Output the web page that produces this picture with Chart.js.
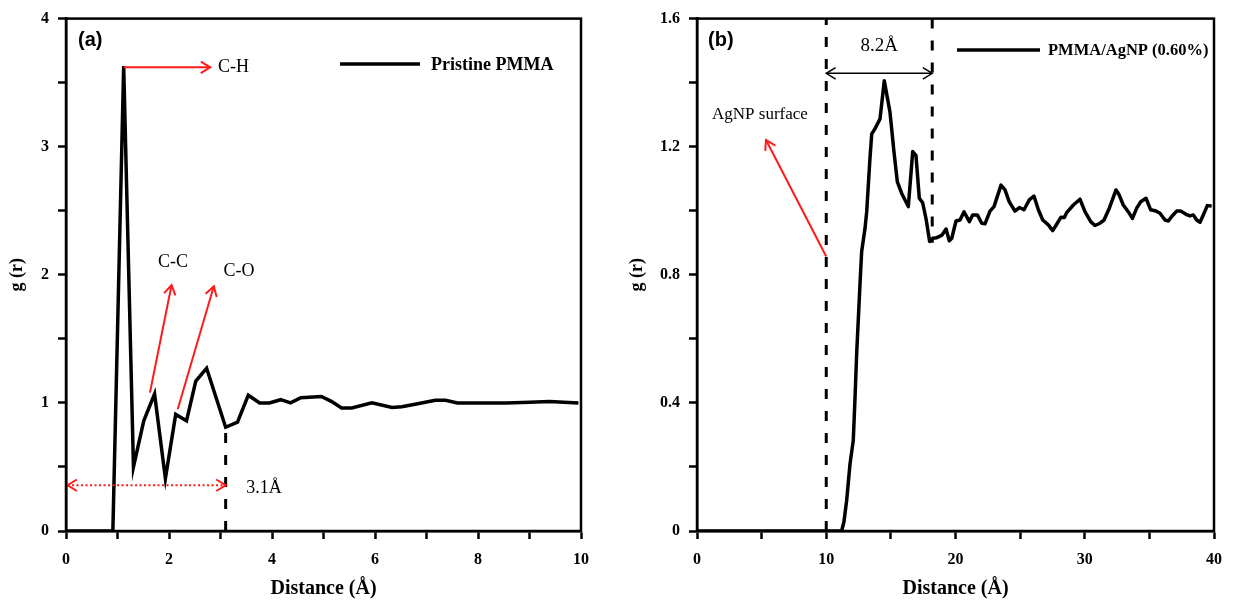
<!DOCTYPE html>
<html>
<head>
<meta charset="utf-8">
<script src="https://cdn.jsdelivr.net/npm/chart.js@4/dist/chart.umd.min.js"></script>
<style>
  html, body { margin: 0; padding: 0; background: #fff; }
  #wrap { position: relative; width: 1233px; height: 603px; overflow: hidden; }
  canvas { position: absolute; top: 0; }
</style>
</head>
<body>
<div id="wrap">
  <canvas id="chartA" width="616" height="603" style="left:0"></canvas>
  <canvas id="chartB" width="617" height="603" style="left:616px"></canvas>
</div>
<script>
// ---- Pristine PMMA radial distribution function ----
const distanceA = [0, 0.91, 1.12, 1.31, 1.51, 1.72, 1.93, 2.13, 2.34, 2.52,
                   2.73, 3.1, 3.33, 3.54, 3.76, 3.95, 4.17, 4.36, 4.56, 4.96,
                   5.16, 5.35, 5.55, 5.94, 6.33, 6.52, 6.78, 7.17, 7.37, 7.60,
                   7.83, 8.09, 8.54, 9.0, 9.39, 9.95];
const grA = [0, 0, 3.63, 0.50, 0.86, 1.07, 0.41, 0.91, 0.86, 1.17,
             1.27, 0.81, 0.85, 1.06, 1.00, 1.00, 1.025, 1.00, 1.04, 1.05,
             1.01, 0.96, 0.96, 1.00, 0.965, 0.97, 0.99, 1.02, 1.02, 1.00,
             1.00, 1.00, 1.00, 1.005, 1.01, 1.00];

// ---- PMMA/AgNP (0.60%) distribution measured from the particle surface ----
const distanceB = [0, 11.19, 11.37, 11.58, 11.84, 12.09, 12.22, 12.36, 12.61, 12.74,
                   13.0, 13.13, 13.38, 13.52, 13.77, 14.16, 14.49, 14.93, 15.24, 15.50,
                   15.84, 16.35, 16.69, 16.94, 17.2, 17.46, 17.72, 18.0, 18.24, 18.55,
                   18.93, 19.27, 19.52, 19.71, 20.04, 20.35, 20.66, 21.07, 21.33, 21.69,
                   22.03, 22.28, 22.67, 22.98, 23.52, 23.83, 24.16, 24.60, 24.94, 25.30,
                   25.71, 26.07, 26.41, 26.75, 27.18, 27.52, 27.83, 28.16, 28.42, 28.60,
                   29.12, 29.63, 30.02, 30.46, 30.79, 31.18, 31.49, 31.90, 32.42, 32.67,
                   32.98, 33.25, 33.45, 33.69, 34.02, 34.33, 34.74, 35.10, 35.51, 35.82,
                   36.21, 36.47, 36.73, 37.11, 37.42, 37.83, 38.14, 38.40, 38.66, 38.92,
                   39.23, 39.48, 39.82];
const grB = [0, 0, 0.029, 0.096, 0.21, 0.283, 0.41, 0.56, 0.77, 0.873,
             0.945, 0.997, 1.163, 1.24, 1.256, 1.287, 1.406, 1.308, 1.184, 1.09,
             1.054, 1.013, 1.185, 1.173, 1.039, 1.025, 0.975, 0.904, 0.914, 0.916,
             0.923, 0.943, 0.906, 0.914, 0.968, 0.971, 0.997, 0.966, 0.987, 0.987,
             0.961, 0.959, 0.999, 1.013, 1.080, 1.065, 1.028, 0.999, 1.010, 1.003,
             1.034, 1.046, 1.003, 0.971, 0.956, 0.938, 0.958, 0.980, 0.979, 0.994,
             1.018, 1.036, 0.997, 0.966, 0.954, 0.961, 0.971, 1.008, 1.065, 1.049,
             1.018, 1.003, 0.992, 0.976, 1.008, 1.028, 1.039, 1.003, 0.999, 0.992,
             0.971, 0.968, 0.982, 0.999, 0.999, 0.989, 0.984, 0.987, 0.971, 0.964,
             0.992, 1.016, 1.015];

// Axis tick values that carry a label
const xLabelsA = [0, 2, 4, 6, 8, 10];
const yLabelsA = [0, 1, 2, 3, 4];
const xLabelsB = [0, 10, 20, 30, 40];
const yLabelsB = ['0', '0.4', '0.8', '1.2', '1.6'];

// Bond peaks marked on the pristine curve (data coordinates)
const bondNames = ['C-H', 'C-C', 'C-O'];
const bondArrowFrom = [[1.12, 3.62], [1.63, 1.08], [2.17, 0.95]];
const bondArrowTo   = [[2.80, 3.62], [2.05, 1.92], [2.87, 1.91]];
const bondTextAt    = [[2.95, 3.62], [2.08, 2.10], [3.36, 2.03]];
const cutoffA = 3.1;           // first-shell cutoff, Å
const surfaceB = 10;           // AgNP surface position, Å
const layerB = 8.2;            // interfacial layer thickness, Å

const SERIF = '"Liberation Serif", "Times New Roman", serif';
const SANS = '"Liberation Sans", Arial, sans-serif';

function px(chart, x, y) {
  return [chart.scales.x.getPixelForValue(x), chart.scales.y.getPixelForValue(y)];
}
function chevron(ctx, x1, y1, x2, y2, size) {
  const a = Math.atan2(y2 - y1, x2 - x1);
  ctx.beginPath();
  ctx.moveTo(x2 - size * Math.cos(a - 0.55), y2 - size * Math.sin(a - 0.55));
  ctx.lineTo(x2, y2);
  ctx.lineTo(x2 - size * Math.cos(a + 0.55), y2 - size * Math.sin(a + 0.55));
  ctx.stroke();
}
function arrow(ctx, p1, p2, color, width, both, dash) {
  ctx.save();
  ctx.strokeStyle = color;
  ctx.lineWidth = width;
  ctx.setLineDash(dash || []);
  ctx.beginPath();
  ctx.moveTo(p1[0], p1[1]);
  ctx.lineTo(p2[0], p2[1]);
  ctx.stroke();
  ctx.setLineDash([]);
  ctx.lineWidth = Math.max(1.5, width);
  chevron(ctx, p1[0], p1[1], p2[0], p2[1], 11);
  if (both) chevron(ctx, p2[0], p2[1], p1[0], p1[1], 11);
  ctx.restore();
}
function dashedV(ctx, chart, x, y0, y1) {
  const a = px(chart, x, y0), b = px(chart, x, y1);
  ctx.save();
  ctx.strokeStyle = '#000';
  ctx.lineWidth = 3;
  ctx.setLineDash([10, 12]);
  ctx.beginPath();
  ctx.moveTo(a[0], a[1]);
  ctx.lineTo(b[0], b[1]);
  ctx.stroke();
  ctx.restore();
}
function text(ctx, s, p, font, align, color) {
  ctx.save();
  ctx.font = font;
  ctx.fillStyle = color || '#000';
  ctx.textAlign = align || 'center';
  ctx.textBaseline = 'middle';
  ctx.fillText(s, p[0], p[1]);
  ctx.restore();
}

// Frame, panel tag and legend
const framePlugin = {
  id: 'frame',
  afterDraw(chart, args, opts) {
    const ctx = chart.ctx, ca = chart.chartArea;
    ctx.save();
    ctx.strokeStyle = '#000';
    ctx.lineWidth = 2.5;
    ctx.strokeRect(ca.left, ca.top, ca.right - ca.left, ca.bottom - ca.top);
    ctx.restore();
    text(ctx, opts.tag, [ca.left + opts.tagDx, ca.top + 22], 'bold 20px ' + SANS, 'left');
    const ds = chart.data.datasets[0];
    ctx.save();
    ctx.strokeStyle = ds.borderColor;
    ctx.lineWidth = ds.borderWidth;
    ctx.beginPath();
    ctx.moveTo(opts.legendX, opts.legendY);
    ctx.lineTo(opts.legendX + opts.legendLen, opts.legendY);
    ctx.stroke();
    ctx.restore();
    text(ctx, ds.label, [opts.legendX + opts.legendLen + opts.legendGap, opts.legendY + 1],
         'bold ' + opts.legendFont + 'px ' + SERIF, 'left');
  }
};

const annotA = {
  id: 'annotA',
  afterDatasetsDraw(chart) {
    const ctx = chart.ctx;
    const red = '#ff1a1a';
    for (let i = 0; i < bondNames.length; i++) {
      const f = bondArrowFrom[i], t = bondArrowTo[i];
      arrow(ctx, px(chart, f[0], f[1]), px(chart, t[0], t[1]), red, 2, false);
      text(ctx, bondNames[i], px(chart, bondTextAt[i][0], bondTextAt[i][1]),
           '18px ' + SERIF, i === 0 ? 'left' : 'center');
    }
    dashedV(ctx, chart, cutoffA, 0, 0.81);
    arrow(ctx, px(chart, 0.03, 0.357), px(chart, cutoffA, 0.357), red, 2, true, [2, 2.5]);
    text(ctx, cutoffA.toFixed(1) + 'Å', px(chart, 3.5, 0.33), '18px ' + SERIF, 'left');
  }
};

const annotB = {
  id: 'annotB',
  afterDatasetsDraw(chart) {
    const ctx = chart.ctx;
    dashedV(ctx, chart, surfaceB, 0, 1.6);
    dashedV(ctx, chart, surfaceB + layerB, 1.6, 0.9);
    arrow(ctx, px(chart, surfaceB, 1.429), px(chart, surfaceB + layerB, 1.429), '#000', 1.5, true);
    text(ctx, layerB.toFixed(1) + 'Å', px(chart, surfaceB + layerB / 2, 1.515), '19px ' + SERIF, 'center');
    text(ctx, 'AgNP surface', px(chart, 4.87, 1.30), '17px ' + SERIF, 'center');
    arrow(ctx, px(chart, surfaceB, 0.857), px(chart, 5.34, 1.221), '#ff1a1a', 2, false);
  }
};

function makeScales(xmax, xstep, xLabels, ymax, ystep, yLabelFn, yWidth, yTitlePad) {
  const tickFont = { family: SERIF, size: 16, weight: 'bold' };
  const grid = {
    drawOnChartArea: false, drawTicks: true, tickLength: 8,
    tickColor: '#000', tickWidth: 2.5, color: '#000'
  };
  return {
    x: {
      type: 'linear', min: 0, max: xmax,
      border: { display: true, color: '#000', width: 2.5 },
      grid: grid,
      ticks: {
        stepSize: xstep, autoSkip: false, maxRotation: 0, padding: 11,
        color: '#000', font: tickFont,
        callback: v => xLabels.includes(Math.round(v * 1000) / 1000) ? String(Math.round(v)) : ''
      },
      title: {
        display: true, text: 'Distance (Å)', color: '#000',
        font: { family: SERIF, size: 20, weight: 'bold' },
        padding: { top: 0, bottom: 2 }
      },
      afterFit(s) { s.height = 72; }
    },
    y: {
      type: 'linear', min: 0, max: ymax,
      border: { display: true, color: '#000', width: 2.5 },
      grid: grid,
      ticks: {
        stepSize: ystep, autoSkip: false, padding: 9,
        color: '#000', font: tickFont, callback: yLabelFn
      },
      title: {
        display: true, text: 'g (r)', color: '#000',
        font: { family: SERIF, size: 18, weight: 'bold' },
        padding: { top: yTitlePad, bottom: 0 }
      },
      afterFit(s) { s.width = yWidth; }
    }
  };
}

const common = {
  responsive: false,
  animation: false,
  devicePixelRatio: 1,
  plugins: { legend: { display: false }, tooltip: { enabled: false } },
  elements: { point: { radius: 0 } }
};

new Chart(document.getElementById('chartA'), {
  type: 'line',
  data: {
    datasets: [{
      label: 'Pristine PMMA',
      data: distanceA.map((d, i) => ({ x: d, y: grA[i] })),
      borderColor: '#000', borderWidth: 3.5, tension: 0, fill: false,
      borderJoinStyle: 'miter'
    }]
  },
  options: Object.assign({}, common, {
    layout: { padding: { top: 16, right: 35, left: 0, bottom: 0 } },
    scales: makeScales(10, 1, xLabelsA, 4, 0.5,
      v => yLabelsA.includes(Math.round(v * 1000) / 1000) ? String(Math.round(v)) : '', 66, 7),
    plugins: Object.assign({}, common.plugins, {
      frame: { tag: '(a)', tagDx: 12, legendX: 340, legendY: 64, legendLen: 80, legendGap: 11, legendFont: 18 }
    })
  }),
  plugins: [annotA, framePlugin]
});

new Chart(document.getElementById('chartB'), {
  type: 'line',
  data: {
    datasets: [{
      label: 'PMMA/AgNP (0.60%)',
      data: distanceB.map((d, i) => ({ x: d, y: grB[i] })),
      borderColor: '#000', borderWidth: 3.5, tension: 0, fill: false,
      borderJoinStyle: 'round'
    }]
  },
  options: Object.assign({}, common, {
    layout: { padding: { top: 16, right: 19, left: 0, bottom: 0 } },
    scales: makeScales(40, 5, xLabelsB, 1.6, 0.2,
      v => { const s = String(Math.round(v * 10) / 10); return yLabelsB.includes(s) ? s : ''; }, 81, 11),
    plugins: Object.assign({}, common.plugins, {
      frame: { tag: '(b)', tagDx: 11, legendX: 957 - 616, legendY: 50, legendLen: 83, legendGap: 8, legendFont: 16.5 }
    })
  }),
  plugins: [annotB, framePlugin]
});
</script>
</body>
</html>
